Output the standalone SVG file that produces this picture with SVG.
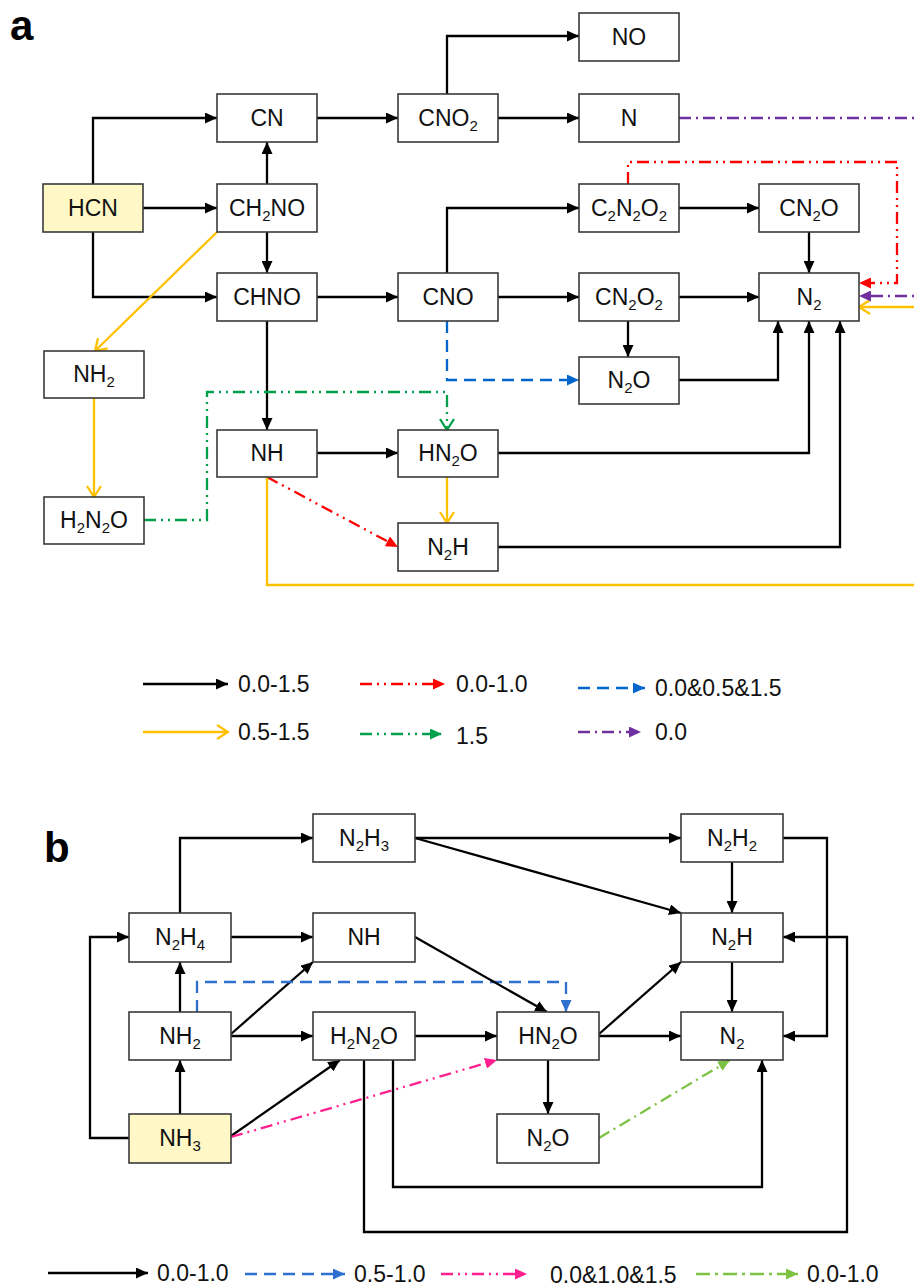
<svg xmlns="http://www.w3.org/2000/svg" width="914" height="1288" viewBox="0 0 914 1288">
<style>
text{font-family:"Liberation Sans",Arial,sans-serif;fill:#111}
.n rect{fill:#fff;stroke:#3a3a3a;stroke-width:1.6}
.n text{font-size:23px;text-anchor:middle}
.y rect{fill:#FFF8C6}
.s{font-size:15px}
.c path{fill:none;stroke-width:2.3}
.k{stroke:#000;marker-end:url(#ak)}
.yl{stroke:#FFC000;marker-end:url(#ay)}
.rd{stroke:#FF0000;stroke-dasharray:12 5 2 5 2 5;marker-end:url(#ar)}
.gn{stroke:#00A04B;stroke-dasharray:12 5 2 5 2 5;marker-end:url(#ago)}
.bl{stroke:#0066CC;stroke-dasharray:12 7;marker-end:url(#ab)}
.pu{stroke:#7030A0;stroke-dasharray:12 5 2 5;marker-end:url(#ap)}
.bb{stroke:#2E6FD0;stroke-dasharray:12 7;marker-end:url(#ab2)}
.pk{stroke:#FF1F8F;stroke-dasharray:12 5 2 5 2 5;marker-end:url(#apk)}
.lg{stroke:#7DC242;stroke-dasharray:12 5 2 5;marker-end:url(#alg)}
.lt{font-size:23px}
.ttl{font-size:42px;font-weight:bold;fill:#000}
</style>
<defs>
<marker id="ak" markerUnits="userSpaceOnUse" markerWidth="13" markerHeight="11" refX="12" refY="5.5" orient="auto"><path d="M0,0 L12,5.5 L0,11 z" fill="#000"/></marker>
<marker id="ay" markerUnits="userSpaceOnUse" markerWidth="14" markerHeight="16" refX="12" refY="8" orient="auto"><path d="M1,1 L12,8 L1,15" fill="none" stroke="#FFC000" stroke-width="2.3"/></marker>
<marker id="ar" markerUnits="userSpaceOnUse" markerWidth="13" markerHeight="11" refX="12" refY="5.5" orient="auto"><path d="M0,0 L12,5.5 L0,11 z" fill="#FF0000"/></marker>
<marker id="ag" markerUnits="userSpaceOnUse" markerWidth="13" markerHeight="11" refX="12" refY="5.5" orient="auto"><path d="M0,0 L12,5.5 L0,11 z" fill="#00A04B"/></marker>
<marker id="ago" markerUnits="userSpaceOnUse" markerWidth="14" markerHeight="16" refX="12" refY="8" orient="auto"><path d="M1,1 L12,8 L1,15" fill="none" stroke="#00A04B" stroke-width="2.3"/></marker>
<marker id="ab" markerUnits="userSpaceOnUse" markerWidth="13" markerHeight="11" refX="12" refY="5.5" orient="auto"><path d="M0,0 L12,5.5 L0,11 z" fill="#0066CC"/></marker>
<marker id="ab2" markerUnits="userSpaceOnUse" markerWidth="13" markerHeight="11" refX="12" refY="5.5" orient="auto"><path d="M0,0 L12,5.5 L0,11 z" fill="#2E6FD0"/></marker>
<marker id="ap" markerUnits="userSpaceOnUse" markerWidth="13" markerHeight="11" refX="12" refY="5.5" orient="auto"><path d="M0,0 L12,5.5 L0,11 z" fill="#7030A0"/></marker>
<marker id="apk" markerUnits="userSpaceOnUse" markerWidth="13" markerHeight="11" refX="12" refY="5.5" orient="auto"><path d="M0,0 L12,5.5 L0,11 z" fill="#FF1F8F"/></marker>
<marker id="alg" markerUnits="userSpaceOnUse" markerWidth="13" markerHeight="11" refX="12" refY="5.5" orient="auto"><path d="M0,0 L12,5.5 L0,11 z" fill="#7DC242"/></marker>
</defs>
<rect width="914" height="1288" fill="#fff"/>
<text class="ttl" x="10" y="40">a</text>
<text class="ttl" x="44" y="862">b</text>

<g id="connectors-a" class="c">
<path class="k" d="M93,184 V118 H217"/>
<path class="k" d="M143,208 H217"/>
<path class="k" d="M93,232 V297 H217"/>
<path class="k" d="M267,184 V142"/>
<path class="k" d="M267,232 V273"/>
<path class="yl" d="M217,232 L95,351"/>
<path class="k" d="M317,118 H398"/>
<path class="k" d="M447,94 V36 H579"/>
<path class="k" d="M498,118 H579"/>
<path class="k" d="M317,297 H398"/>
<path class="k" d="M267,321 V430"/>
<path class="k" d="M447,273 V208 H579"/>
<path class="k" d="M498,297 H579"/>
<path class="bl" d="M447,321 V380 H579"/>
<path class="k" d="M679,208 H759"/>
<path class="k" d="M809,232 V273"/>
<path class="k" d="M679,297 H759"/>
<path class="k" d="M628,321 V357"/>
<path class="k" d="M679,380 H778 V321"/>
<path class="k" d="M498,453 H809 V321"/>
<path class="k" d="M498,547 H840 V321"/>
<path class="k" d="M317,453 H398"/>
<path class="rd" d="M267,477 L398,547"/>
<path class="yl" d="M267,477 V585 H924 V307 H859"/>
<path class="yl" d="M447,477 V523"/>
<path class="yl" d="M94,398 V497"/>
<path class="gn" d="M144,520 H207 V392 H447 V430"/>
<path class="pu" d="M679,118 H920 V296 H859"/>
<path class="rd" d="M628,184 V162 H897 V283 H859"/>
</g>

<g id="HCN" class="n y"><rect x="43" y="184" width="100" height="48"/><text x="93" y="216">HCN</text></g>
<g id="CN" class="n"><rect x="217" y="94" width="100" height="48"/><text x="267" y="126">CN</text></g>
<g id="CH2NO" class="n"><rect x="217" y="184" width="100" height="48"/><text x="267" y="216">CH<tspan class="s" dy="5">2</tspan><tspan dy="-5">NO</tspan></text></g>
<g id="CHNO" class="n"><rect x="217" y="273" width="100" height="48"/><text x="267" y="305">CHNO</text></g>
<g id="CNO2" class="n"><rect x="398" y="94" width="100" height="48"/><text x="448" y="126">CNO<tspan class="s" dy="5">2</tspan></text></g>
<g id="NO" class="n"><rect x="579" y="13" width="100" height="48"/><text x="629" y="45">NO</text></g>
<g id="N" class="n"><rect x="579" y="94" width="100" height="48"/><text x="629" y="126">N</text></g>
<g id="C2N2O2" class="n"><rect x="579" y="184" width="100" height="48"/><text x="629" y="216">C<tspan class="s" dy="5">2</tspan><tspan dy="-5">N</tspan><tspan class="s" dy="5">2</tspan><tspan dy="-5">O</tspan><tspan class="s" dy="5">2</tspan></text></g>
<g id="CN2O" class="n"><rect x="759" y="184" width="100" height="48"/><text x="809" y="216">CN<tspan class="s" dy="5">2</tspan><tspan dy="-5">O</tspan></text></g>
<g id="CNO" class="n"><rect x="398" y="273" width="100" height="48"/><text x="448" y="305">CNO</text></g>
<g id="CN2O2" class="n"><rect x="579" y="273" width="100" height="48"/><text x="629" y="305">CN<tspan class="s" dy="5">2</tspan><tspan dy="-5">O</tspan><tspan class="s" dy="5">2</tspan></text></g>
<g id="N2-a" class="n"><rect x="759" y="273" width="100" height="48"/><text x="809" y="305">N<tspan class="s" dy="5">2</tspan></text></g>
<g id="N2O-a" class="n"><rect x="579" y="357" width="100" height="47"/><text x="629" y="388">N<tspan class="s" dy="5">2</tspan><tspan dy="-5">O</tspan></text></g>
<g id="NH2-a" class="n"><rect x="44" y="351" width="100" height="47"/><text x="94" y="382">NH<tspan class="s" dy="5">2</tspan></text></g>
<g id="NH-a" class="n"><rect x="217" y="430" width="100" height="47"/><text x="267" y="461">NH</text></g>
<g id="HN2O-a" class="n"><rect x="398" y="430" width="100" height="47"/><text x="448" y="461">HN<tspan class="s" dy="5">2</tspan><tspan dy="-5">O</tspan></text></g>
<g id="H2N2O-a" class="n"><rect x="44" y="497" width="100" height="47"/><text x="94" y="528">H<tspan class="s" dy="5">2</tspan><tspan dy="-5">N</tspan><tspan class="s" dy="5">2</tspan><tspan dy="-5">O</tspan></text></g>
<g id="N2H-a" class="n"><rect x="398" y="523" width="100" height="48"/><text x="448" y="555">N<tspan class="s" dy="5">2</tspan><tspan dy="-5">H</tspan></text></g>

<g id="legend-a" class="c">
<path class="k" d="M143,684 H228"/><text class="lt" x="238" y="692">0.0-1.5</text>
<path class="rd" d="M360,684 H445"/><text class="lt" x="456" y="692">0.0-1.0</text>
<path class="bl" d="M578,688 H645"/><text class="lt" x="655" y="696">0.0&amp;0.5&amp;1.5</text>
<path class="yl" d="M143,732 H228"/><text class="lt" x="238" y="740">0.5-1.5</text>
<path class="rd" style="stroke:#00A04B;marker-end:url(#ag)" d="M360,734 H442"/><text class="lt" x="456" y="744">1.5</text>
<path class="pu" d="M578,732 H641"/><text class="lt" x="655" y="740">0.0</text>
</g>

<g id="connectors-b" class="c">
<path class="k" d="M129,1138 H90 V937 H129"/>
<path class="k" d="M180,1114 V1060"/>
<path class="k" d="M180,1012 V962"/>
<path class="k" d="M180,913 V838 H313"/>
<path class="k" d="M231,937 H313"/>
<path class="k" d="M231,1034 L313,962"/>
<path class="k" d="M231,1036 H313"/>
<path class="bb" d="M197,1012 V982 H566 V1012"/>
<path class="k" d="M231,1136 L340,1060"/>
<path class="pk" d="M231,1137 L497,1060"/>
<path class="k" d="M415,1036 H497"/>
<path class="k" d="M415,937 L547,1012"/>
<path class="k" d="M415,838 H681"/>
<path class="k" d="M415,838 L681,913"/>
<path class="k" d="M732,862 V913"/>
<path class="k" d="M783,838 H827 V1036 H783"/>
<path class="k" d="M599,1034 L681,962"/>
<path class="k" d="M599,1036 H681"/>
<path class="k" d="M548,1060 V1114"/>
<path class="k" d="M732,962 V1012"/>
<path class="lg" d="M599,1138 L730,1060"/>
<path class="k" d="M393,1060 V1187 H762 V1060"/>
<path class="k" d="M364,1060 V1232 H847 V937 H783"/>
</g>

<g id="N2H3" class="n"><rect x="313" y="814" width="102" height="48"/><text x="364" y="846">N<tspan class="s" dy="5">2</tspan><tspan dy="-5">H</tspan><tspan class="s" dy="5">3</tspan></text></g>
<g id="N2H2" class="n"><rect x="681" y="814" width="102" height="48"/><text x="732" y="846">N<tspan class="s" dy="5">2</tspan><tspan dy="-5">H</tspan><tspan class="s" dy="5">2</tspan></text></g>
<g id="N2H4" class="n"><rect x="129" y="913" width="102" height="49"/><text x="180" y="945">N<tspan class="s" dy="5">2</tspan><tspan dy="-5">H</tspan><tspan class="s" dy="5">4</tspan></text></g>
<g id="NH-b" class="n"><rect x="313" y="913" width="102" height="49"/><text x="364" y="945">NH</text></g>
<g id="N2H-b" class="n"><rect x="681" y="913" width="102" height="49"/><text x="732" y="945">N<tspan class="s" dy="5">2</tspan><tspan dy="-5">H</tspan></text></g>
<g id="NH2-b" class="n"><rect x="129" y="1012" width="102" height="48"/><text x="180" y="1044">NH<tspan class="s" dy="5">2</tspan></text></g>
<g id="H2N2O-b" class="n"><rect x="313" y="1012" width="102" height="48"/><text x="364" y="1044">H<tspan class="s" dy="5">2</tspan><tspan dy="-5">N</tspan><tspan class="s" dy="5">2</tspan><tspan dy="-5">O</tspan></text></g>
<g id="HN2O-b" class="n"><rect x="497" y="1012" width="102" height="48"/><text x="548" y="1044">HN<tspan class="s" dy="5">2</tspan><tspan dy="-5">O</tspan></text></g>
<g id="N2-b" class="n"><rect x="681" y="1012" width="102" height="48"/><text x="732" y="1044">N<tspan class="s" dy="5">2</tspan></text></g>
<g id="NH3" class="n y"><rect x="129" y="1114" width="102" height="49"/><text x="180" y="1146">NH<tspan class="s" dy="5">3</tspan></text></g>
<g id="N2O-b" class="n"><rect x="497" y="1114" width="102" height="49"/><text x="548" y="1146">N<tspan class="s" dy="5">2</tspan><tspan dy="-5">O</tspan></text></g>

<g id="legend-b" class="c">
<path class="k" d="M48,1273 H148"/><text class="lt" x="157" y="1281">0.0-1.0</text>
<path class="bb" d="M245,1274 H345"/><text class="lt" x="354" y="1282">0.5-1.0</text>
<path class="pk" d="M441,1274 H527"/><text class="lt" x="550" y="1283">0.0&amp;1.0&amp;1.5</text>
<path class="lg" style="stroke-dasharray:14 5 3 5" d="M696,1274 H798"/><text class="lt" x="807" y="1282">0.0-1.0</text>
</g>
</svg>
